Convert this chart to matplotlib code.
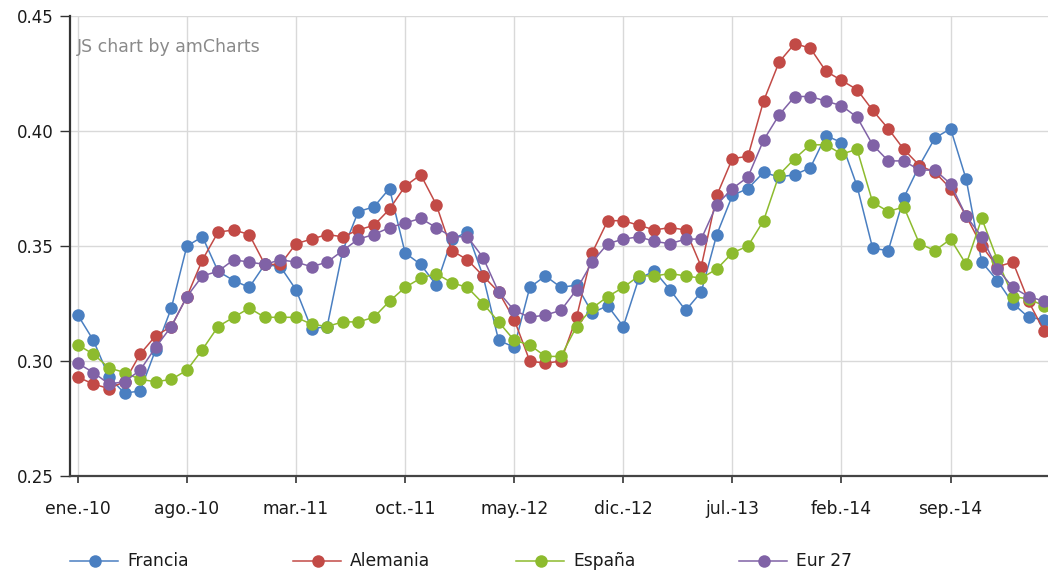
import matplotlib.pyplot as plt
from matplotlib.lines import Line2D
import numpy as np

# monthly values, ene.-10 .. mar.-15
francia = [0.320, 0.309, 0.293, 0.286, 0.287, 0.305, 0.323, 0.350, 0.354, 0.339, 0.335,
           0.332, 0.342, 0.341, 0.331, 0.314, 0.315, 0.348, 0.365, 0.367, 0.375, 0.347,
           0.342, 0.333, 0.353, 0.356, 0.337, 0.309, 0.306, 0.332, 0.337, 0.332, 0.333,
           0.321, 0.324, 0.315, 0.336, 0.339, 0.331, 0.322, 0.330, 0.355, 0.372,
           0.375, 0.382, 0.380, 0.381, 0.384, 0.398, 0.395, 0.376, 0.349, 0.348,
           0.371, 0.385, 0.397, 0.401, 0.379, 0.343, 0.335, 0.325, 0.319, 0.318]
alemania = [0.293, 0.290, 0.288, 0.291, 0.303, 0.311, 0.315, 0.328, 0.344, 0.356, 0.357,
            0.355, 0.342, 0.342, 0.351, 0.353, 0.355, 0.354, 0.357, 0.359, 0.366, 0.376,
            0.381, 0.368, 0.348, 0.344, 0.337, 0.330, 0.318, 0.300, 0.299, 0.300, 0.319,
            0.347, 0.361, 0.361, 0.359, 0.357, 0.358, 0.357, 0.341, 0.372, 0.388,
            0.389, 0.413, 0.430, 0.438, 0.436, 0.426, 0.422, 0.418, 0.409, 0.401,
            0.392, 0.385, 0.382, 0.375, 0.363, 0.350, 0.341, 0.343, 0.326, 0.313]
espana = [0.307, 0.303, 0.297, 0.295, 0.292, 0.291, 0.292, 0.296, 0.305, 0.315, 0.319,
          0.323, 0.319, 0.319, 0.319, 0.316, 0.315, 0.317, 0.317, 0.319, 0.326, 0.332,
          0.336, 0.338, 0.334, 0.332, 0.325, 0.317, 0.309, 0.307, 0.302, 0.302, 0.315,
          0.323, 0.328, 0.332, 0.337, 0.337, 0.338, 0.337, 0.336, 0.340, 0.347,
          0.350, 0.361, 0.381, 0.388, 0.394, 0.394, 0.390, 0.392, 0.369, 0.365,
          0.367, 0.351, 0.348, 0.353, 0.342, 0.362, 0.344, 0.328, 0.327, 0.324]
eur27 = [0.299, 0.295, 0.290, 0.291, 0.296, 0.306, 0.315, 0.328, 0.337, 0.339, 0.344,
         0.343, 0.342, 0.344, 0.343, 0.341, 0.343, 0.348, 0.353, 0.355, 0.358, 0.360,
         0.362, 0.358, 0.354, 0.354, 0.345, 0.330, 0.322, 0.319, 0.320, 0.322, 0.331,
         0.343, 0.351, 0.353, 0.354, 0.352, 0.351, 0.353, 0.353, 0.368, 0.375,
         0.380, 0.396, 0.407, 0.415, 0.415, 0.413, 0.411, 0.406, 0.394, 0.387,
         0.387, 0.383, 0.383, 0.377, 0.363, 0.354, 0.340, 0.332, 0.328, 0.326]

series_names = ['Francia', 'Alemania', 'España', 'Eur 27']
series_colors = ['#4a7fc1', '#c24a46', '#8dbb2e', '#8062a6']
tick_labels = ['ene.-10', 'ago.-10', 'mar.-11', 'oct.-11', 'may.-12',
               'dic.-12', 'jul.-13', 'feb.-14', 'sep.-14']

plt.rcParams['font.family'] = ['DejaVu Sans']

fig = plt.figure(figsize=(10.48, 5.74), dpi=100)
ax = fig.add_axes([70 / 1048, 1 - 476 / 574, 1 - 70 / 1048, 460 / 574])

x = np.arange(len(francia))
for vals, name, col in zip([francia, alemania, espana, eur27], series_names, series_colors):
    ax.plot(x, vals, color=col, lw=1.1, marker='o', ms=9, mew=0, label=name, clip_on=False, zorder=3)

ax.set_xlim(-0.5, 62.25)
ax.set_ylim(0.25, 0.45)
ax.set_yticks([0.25, 0.30, 0.35, 0.40, 0.45])
ax.set_yticklabels(['0.25', '0.30', '0.35', '0.40', '0.45'])
ax.set_xticks(np.arange(0, len(francia), 7)[:len(tick_labels)])
ax.set_xticklabels(tick_labels)

ax.grid(True, color='#d9d9d9', lw=1, zorder=0)
for s in ['top', 'right']:
    ax.spines[s].set_visible(False)
ax.spines['left'].set_color('#333333')
ax.spines['left'].set_linewidth(1.6)
ax.spines['bottom'].set_color('#444444')
ax.spines['bottom'].set_linewidth(1.6)
ax.tick_params(axis='y', length=7, width=1, color='#333333', pad=5, labelsize=12, labelcolor='#1a1a1a')
ax.tick_params(axis='x', length=5, width=1.2, color='#333333', pad=12, labelsize=12.3, labelcolor='#1a1a1a')

ax.text(77 / 1048, 1 - 46.5 / 574, 'JS chart by amCharts', transform=fig.transFigure,
        fontsize=12.5, color='#8a8a8a', va='center', ha='left')

# legend, equal-width entries along the bottom
ly = 1 - 561 / 574
for k, (name, col) in enumerate(zip(series_names, series_colors)):
    x0 = 70 + 223 * k
    fig.add_artist(Line2D([x0 / 1048, (x0 + 48) / 1048], [ly, ly], color=col, lw=1.1,
                          transform=fig.transFigure))
    fig.add_artist(Line2D([(x0 + 25) / 1048], [ly], color=col, marker='o', ms=9, mew=0,
                          transform=fig.transFigure))
    fig.text((x0 + 57) / 1048, ly, name, fontsize=12.3, color='#1a1a1a', va='center', ha='left')

fig.savefig('out.png', dpi=100)
